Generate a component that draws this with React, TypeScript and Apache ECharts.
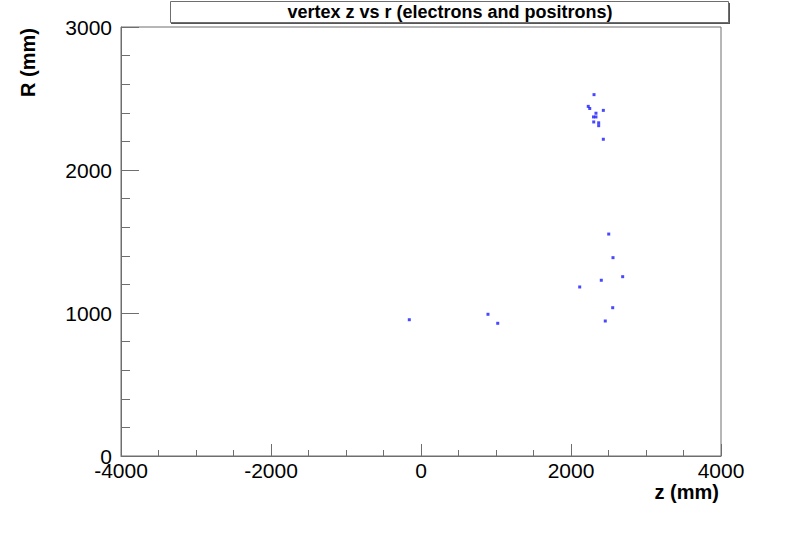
import React, { useEffect, useRef } from "react";
import * as echarts from "echarts";

const titleText = "vertex z vs r (electrons and positrons)";
const xAxisTitle = "z (mm)";
const yAxisTitle = "R (mm)";

const zValues = [2307, 2230, 2250, 2431, 2333, 2300, 2333, 2303, 2369, 2369, 2431, 2503, 2560, 2689, 2404, 2116, 2556, 2457, -156, 893, 1023];
const rValues = [2527, 2445, 2430, 2417, 2397, 2371, 2371, 2336, 2330, 2310, 2215, 1552, 1387, 1254, 1229, 1182, 1037, 944, 953, 991, 928];

const FONT = "'Liberation Sans', Arial, Helvetica, sans-serif";

export default function App() {
  const ref = useRef<HTMLDivElement>(null);
  useEffect(() => {
    if (!ref.current) return;
    const chart = echarts.init(ref.current, undefined, { renderer: "svg" });
    const points = zValues.map((z, i) => [z, rValues[i]]);
    const frame = "#6e6e6e";
    const fmt = (v: number) => String(v);
    chart.setOption({
      animation: false,
      backgroundColor: "#ffffff",
      grid: {
        left: 121,
        top: 27,
        width: 600,
        height: 429,
        show: true,
        borderColor: frame,
        borderWidth: 1,
        backgroundColor: "#ffffff",
      },
      xAxis: {
        type: "value",
        min: -4000,
        max: 4000,
        interval: 2000,
        axisLine: { show: true, onZero: false, lineStyle: { color: frame, width: 1 } },
        axisTick: { show: true, inside: true, length: 12, lineStyle: { color: frame } },
        minorTick: { show: true, splitNumber: 4, length: 6, lineStyle: { color: frame } },
        splitLine: { show: false },
        minorSplitLine: { show: false },
        axisLabel: { color: "#000", fontSize: 21, fontFamily: FONT, margin: 4, formatter: fmt },
      },
      yAxis: {
        type: "value",
        min: 0,
        max: 3000,
        interval: 1000,
        axisLine: { show: true, onZero: false, lineStyle: { color: frame, width: 1 } },
        axisTick: { show: true, inside: true, length: 18, lineStyle: { color: frame } },
        minorTick: { show: true, splitNumber: 5, length: 9, lineStyle: { color: frame } },
        splitLine: { show: false },
        minorSplitLine: { show: false },
        axisLabel: { color: "#000", fontSize: 21, fontFamily: FONT, margin: 9, formatter: fmt },
      },
      series: [
        {
          type: "scatter",
          data: points,
          symbol: "rect",
          symbolSize: 3,
          itemStyle: { color: "#1a1aff" },
          silent: true,
        },
      ],
      graphic: [
        {
          type: "rect",
          shape: { x: 171, y: 3, width: 559, height: 21 },
          style: { fill: "#555", stroke: null },
          silent: true,
        },
        {
          type: "rect",
          shape: { x: 170.5, y: 1.5, width: 558, height: 21 },
          style: { fill: "#ffffff", stroke: frame, lineWidth: 1 },
          silent: true,
        },
        {
          type: "text",
          x: 450,
          y: 12,
          style: {
            text: titleText,
            font: `bold 18px ${FONT}`,
            fill: "#000",
            align: "center",
            verticalAlign: "middle",
          },
          silent: true,
        },
        {
          type: "text",
          x: 719,
          y: 492,
          style: {
            text: xAxisTitle,
            font: `bold 20px ${FONT}`,
            fill: "#000",
            align: "right",
            verticalAlign: "middle",
          },
          silent: true,
        },
        {
          type: "text",
          x: 28,
          y: 28,
          rotation: Math.PI / 2,
          style: {
            text: yAxisTitle,
            font: `bold 20px ${FONT}`,
            fill: "#000",
            align: "right",
            verticalAlign: "middle",
          },
          silent: true,
        },
      ],
    });
    return () => chart.dispose();
  }, []);
  return (
    <div
      ref={ref}
      style={{ position: "fixed", left: 0, top: 0, width: 800, height: 537 }}
    />
  );
}
